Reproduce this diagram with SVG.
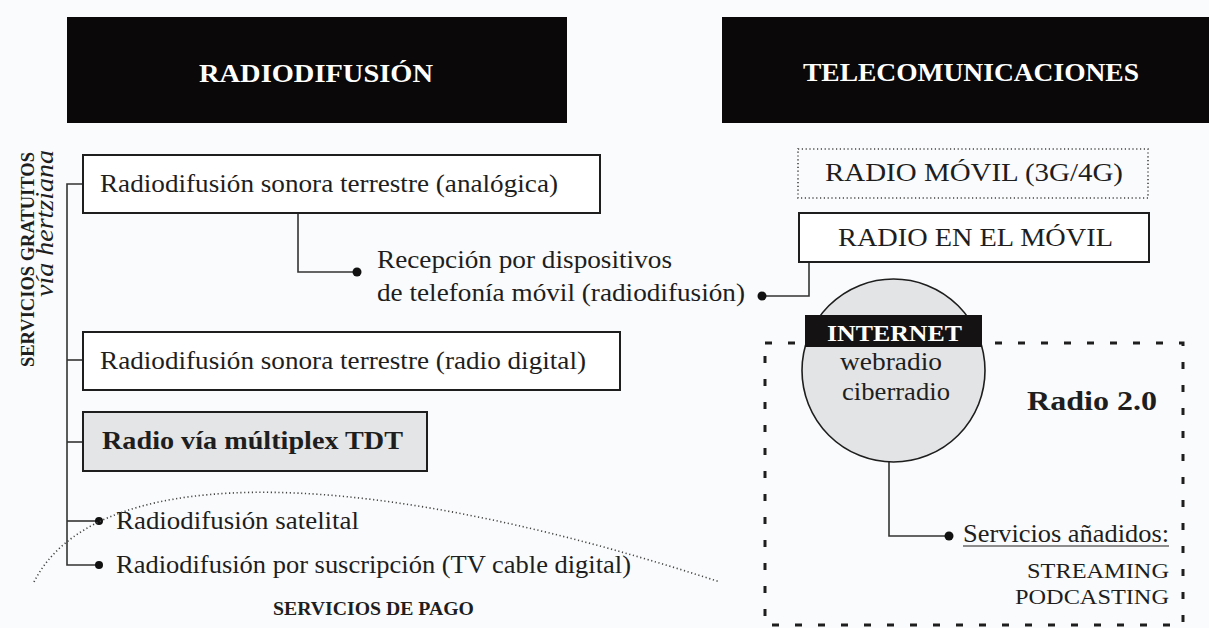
<svg xmlns="http://www.w3.org/2000/svg" width="1209" height="628" viewBox="0 0 1209 628">
<style>
.bg{fill:#fafbfc}
.hdr{fill:#0a0808}
.hdrt{font-family:"Liberation Serif",serif;font-weight:bold;font-size:25px;fill:#ffffff}
.box{fill:#ffffff;stroke:#1e1e1e;stroke-width:2}
.gbox{fill:#e4e5e6;stroke:#1e1e1e;stroke-width:2}
.t{font-family:"Liberation Serif",serif;font-size:26px;fill:#1e1e1e}
.tb{font-family:"Liberation Serif",serif;font-size:26px;font-weight:bold;fill:#1e1e1e}
.ln{fill:none;stroke:#333;stroke-width:1.6}
.dot{fill:#111}
.dotted{fill:none;stroke:#444;stroke-width:1.6;stroke-dasharray:1.2 2.6}
.dashed{fill:none;stroke:#1e1e1e;stroke-width:3;stroke-dasharray:7 16}
</style>
<rect class="bg" x="0" y="0" width="1209" height="628"/>

<g id="header-radiodifusion">
<rect class="hdr" x="67" y="17" width="500" height="106"/>
<text class="hdrt" x="199" y="82" textLength="234" lengthAdjust="spacingAndGlyphs">RADIODIFUSIÓN</text>
</g>
<g id="header-telecomunicaciones">
<rect class="hdr" x="722" y="17" width="487" height="106"/>
<text class="hdrt" x="803" y="81" textLength="336" lengthAdjust="spacingAndGlyphs">TELECOMUNICACIONES</text>
</g>

<g id="label-gratuitos">
<text class="tb" style="font-size:19px" x="34" y="367" transform="rotate(-90 34 367)" textLength="215" lengthAdjust="spacingAndGlyphs">SERVICIOS GRATUITOS</text>
<text class="t" style="font-style:italic;font-size:25px" x="53" y="297" transform="rotate(-90 53 297)" textLength="147" lengthAdjust="spacingAndGlyphs">vía hertziana</text>
</g>

<g id="connectors">
<polyline class="ln" points="83,184 67,184 67,565 99,565"/>
<line class="ln" x1="67" y1="360" x2="83" y2="360"/>
<line class="ln" x1="67" y1="442" x2="83" y2="442"/>
<line class="ln" x1="67" y1="521" x2="99" y2="521"/>
<circle class="dot" cx="99" cy="521" r="4"/>
<circle class="dot" cx="99" cy="565" r="4"/>
<polyline class="ln" points="298,213 298,272 357,272"/>
<circle class="dot" cx="357" cy="272" r="4.5"/>
<polyline class="ln" points="809,262 809,296 762,296"/>
<circle class="dot" cx="762" cy="296" r="4.5"/>
<polyline class="ln" points="889,462 889,536 949,536"/>
<circle class="dot" cx="949" cy="536" r="4.5"/>
</g>

<g id="node-analogica">
<rect class="box" x="83" y="155" width="517" height="58"/>
<text class="t" x="100" y="192" textLength="458" lengthAdjust="spacingAndGlyphs">Radiodifusión sonora terrestre (analógica)</text>
</g>
<g id="node-recepcion">
<text class="t" x="377" y="268" textLength="295" lengthAdjust="spacingAndGlyphs">Recepción por dispositivos</text>
<text class="t" x="377" y="301" textLength="368" lengthAdjust="spacingAndGlyphs">de telefonía móvil (radiodifusión)</text>
</g>
<g id="node-digital">
<rect class="box" x="83" y="332" width="537" height="58"/>
<text class="t" x="100" y="369" textLength="486" lengthAdjust="spacingAndGlyphs">Radiodifusión sonora terrestre (radio digital)</text>
</g>
<g id="node-tdt">
<rect class="gbox" x="83" y="412" width="344" height="59"/>
<text class="tb" x="102" y="449" textLength="301" lengthAdjust="spacingAndGlyphs">Radio vía múltiplex TDT</text>
</g>
<g id="node-satelital">
<text class="t" x="116" y="529" textLength="243" lengthAdjust="spacingAndGlyphs">Radiodifusión satelital</text>
</g>
<g id="node-suscripcion">
<text class="t" x="116" y="573" textLength="515" lengthAdjust="spacingAndGlyphs">Radiodifusión por suscripción (TV cable digital)</text>
</g>
<g id="zone-pago">
<path class="dotted" d="M34,582 C90,470 330,455 720,582"/>
<text class="tb" style="font-size:18px" x="273" y="615" textLength="201" lengthAdjust="spacingAndGlyphs">SERVICIOS DE PAGO</text>
</g>

<g id="node-radio-movil-3g4g">
<rect x="798" y="149" width="350" height="49" fill="none" stroke="#444" stroke-width="1.6" stroke-dasharray="1.2 2.6"/>
<text class="t" x="825" y="181" textLength="298" lengthAdjust="spacingAndGlyphs">RADIO MÓVIL (3G/4G)</text>
</g>
<g id="node-radio-en-el-movil">
<rect class="box" x="799" y="213" width="350" height="49"/>
<text class="t" x="838" y="246" textLength="275" lengthAdjust="spacingAndGlyphs">RADIO EN EL MÓVIL</text>
</g>

<g id="zone-radio20">
<rect class="dashed" x="765" y="343" width="418" height="282"/>
<text class="tb" style="font-size:27px" x="1027" y="410" textLength="130" lengthAdjust="spacingAndGlyphs">Radio 2.0</text>
</g>

<g id="node-internet">
<circle cx="893.5" cy="370.5" r="91.5" fill="#e3e4e6" stroke="#1e1e1e" stroke-width="1.6"/>
<rect x="805" y="315" width="177" height="32" fill="#141212"/>
<text class="hdrt" style="font-size:24px" x="827" y="341" textLength="135" lengthAdjust="spacingAndGlyphs">INTERNET</text>
<text class="t" x="891" y="370" text-anchor="middle" textLength="102" lengthAdjust="spacingAndGlyphs">webradio</text>
<text class="t" x="896" y="400" text-anchor="middle" textLength="108" lengthAdjust="spacingAndGlyphs">ciberradio</text>
</g>

<g id="node-servicios">
<text class="t" x="963" y="542" textLength="206" lengthAdjust="spacingAndGlyphs">Servicios añadidos:</text>
<line x1="963" y1="546" x2="1169" y2="546" stroke="#1e1e1e" stroke-width="1.2"/>
<text class="t" style="font-size:22px" x="1169" y="578" text-anchor="end" textLength="142" lengthAdjust="spacingAndGlyphs">STREAMING</text>
<text class="t" style="font-size:22px" x="1169" y="604" text-anchor="end" textLength="154" lengthAdjust="spacingAndGlyphs">PODCASTING</text>
</g>
</svg>
